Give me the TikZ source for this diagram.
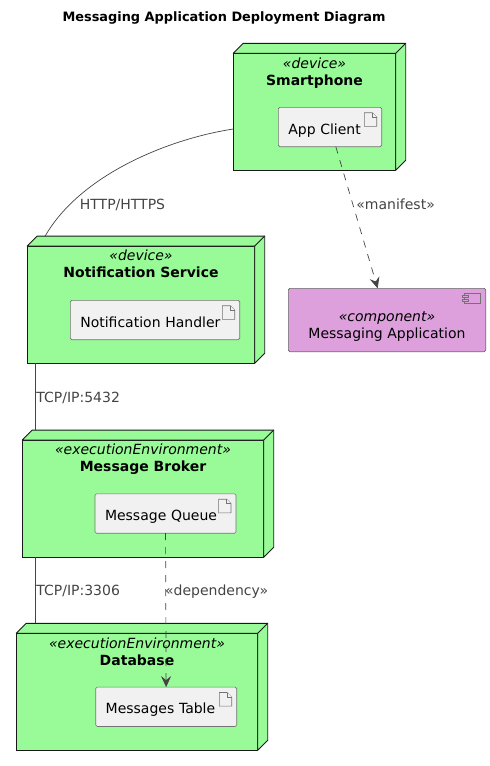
\documentclass[tikz,border=0pt]{standalone}
\usepackage{fontspec}
\setmainfont{DejaVu Sans}
\usetikzlibrary{arrows.meta, calc}
\definecolor{nodegreen}{HTML}{98FB98}
\definecolor{compplum}{HTML}{DDA0DD}
\definecolor{artigray}{HTML}{F1F1F1}
\definecolor{linegray}{HTML}{444444}

\begin{document}
\begin{tikzpicture}[
  x=1pt, y=-1pt,
  txt/.style={font=\fontsize{14}{17}\selectfont, text=black},
  nodebox/.style={rectangle, draw=black!90, fill=nodegreen, line width=0.9pt, outer sep=0pt},
  nodeside/.style={draw=black!90, fill=nodegreen, line width=0.9pt, line join=round},
  nodetitle/.style={txt, align=center, inner sep=0pt, anchor=north},
  arti/.style={rectangle, txt, draw=black!55, fill=artigray, rounded corners=1.5pt, line width=0.6pt, minimum height=39.4pt, text height=14pt, text depth=0pt, inner xsep=10pt, inner ysep=0pt, outer sep=0pt, align=left},
  artiicon/.style={draw=black!55, fill=artigray, line width=0.6pt},
  comp/.style={rectangle, draw=black!60, fill=compplum, rounded corners=1.5pt, line width=0.6pt, outer sep=0pt},
  link/.style={draw=linegray, line width=0.7pt},
  dep/.style={link, dash pattern=on 7pt off 7pt, -{Stealth[length=11pt, width=10pt, inset=4pt]}},
  rel/.style={font=\fontsize{14}{16}\selectfont, text=linegray, inner sep=0.5pt},
]
\useasboundingbox (0,0) rectangle (490,766);

\node[font=\fontsize{12.9}{16}\selectfont\bfseries, inner sep=0pt] (diagtitle) at (224,18) {Messaging Application Deployment Diagram};

%% Deployment nodes
\node[nodebox, minimum width=162.4pt, minimum height=117pt]   (phone)  at (314.5,111.8) {};
\node[nodebox, minimum width=227.4pt, minimum height=117.3pt] (notif)  at (141,304.7)   {};
\node[nodebox, minimum width=241.4pt, minimum height=117.3pt] (broker) at (143,498.7)   {};
\node[nodebox, minimum width=241.4pt, minimum height=117pt]   (db)     at (137,691.8)   {};

\foreach \n in {phone,notif,broker,db} {
  \draw[nodeside] (\n.north west) -- ++(10,-10) -- ($(\n.north east)+(10,-10)$) -- ($(\n.south east)+(10,-10)$) -- (\n.south east) -- (\n.north east) -- cycle;
  \draw[nodeside] (\n.north east) -- ++(10,-10);
}

%% Titles
\node[nodetitle] (phonetitle)  at ($(phone.north)+(0,4)$)  {\textit{«device»}\\\textbf{Smartphone}};
\node[nodetitle] (notiftitle)  at ($(notif.north)+(0,4)$)  {\textit{«device»}\\\textbf{Notification Service}};
\node[nodetitle] (brokertitle) at ($(broker.north)+(0,4)$) {\textit{«executionEnvironment»}\\\textbf{Message Broker}};
\node[nodetitle] (dbtitle)     at ($(db.north)+(0,4)$)     {\textit{«executionEnvironment»}\\\textbf{Database}};

%% Artifacts
\node[arti, text width=83.4pt]  (client)  at (330,127)     {App Client};
\node[arti, text width=149.4pt] (handler) at (155,320)     {Notification Handler};
\node[arti, text width=121pt]   (queue)   at (165.5,513.5) {Message Queue};
\node[arti, text width=121pt]   (table)   at (166.2,706.8) {Messages Table};

\foreach \n in {client,handler,queue,table} {
  \draw[artiicon] ($(\n.north east)+(-17.4,5.4)$) -- ++(8,0) -- ++(4.4,4.4) -- ++(0,9.2) -- ++(-12.4,0) -- cycle;
  \draw[artiicon] ($(\n.north east)+(-9.4,5.4)$) -- ++(0,4.4) -- ++(4.4,0);
}

%% Component
\node[comp, minimum width=197.4pt, minimum height=63.4pt] (app) at (387,320) {};
\node[nodetitle, anchor=center] (apptitle) at ($(app.center)+(0,6.2)$) {\textit{«component»}\\Messaging Application};
\draw[artiicon, fill=compplum] ($(app.north east)+(-21.4,5.4)$) rectangle ++(16.4,9.6);
\draw[artiicon, fill=compplum] ($(app.north east)+(-23,7.2)$) rectangle ++(5.5,2.2);
\draw[artiicon, fill=compplum] ($(app.north east)+(-23,11)$) rectangle ++(5.5,2.2);

%% Links
\draw[link] ($(phone.south west)+(0,-41.3)$) .. controls (168,139) and (80,175) .. node[pos=.75, rel, anchor=north west, xshift=-1pt, yshift=-3pt] (httplabel) {HTTP/HTTPS} ($(notif.north west)+(17.7,-9.7)$);
\draw[link] ($(notif.south west)+(8.2,0)$) -- node[rel, right, yshift=-1.5pt] (tcpa) {TCP/IP:5432} ($(broker.north west)+(13.2,-10)$);
\draw[link] ($(broker.south west)+(13.2,0)$) -- node[rel, right, yshift=-1pt] (tcpb) {TCP/IP:3306} ($(db.north west)+(19.2,-10)$);
\draw[dep] (client) -- node[pos=.4, rel, right, xshift=3pt, yshift=-1pt] (manifest) {«manifest»} (app);
\draw[dep] (queue) -- node[pos=.37, rel, right, xshift=-1.5pt, yshift=-1pt] (depend) {«dependency»} (table);
\end{tikzpicture}
\end{document}
